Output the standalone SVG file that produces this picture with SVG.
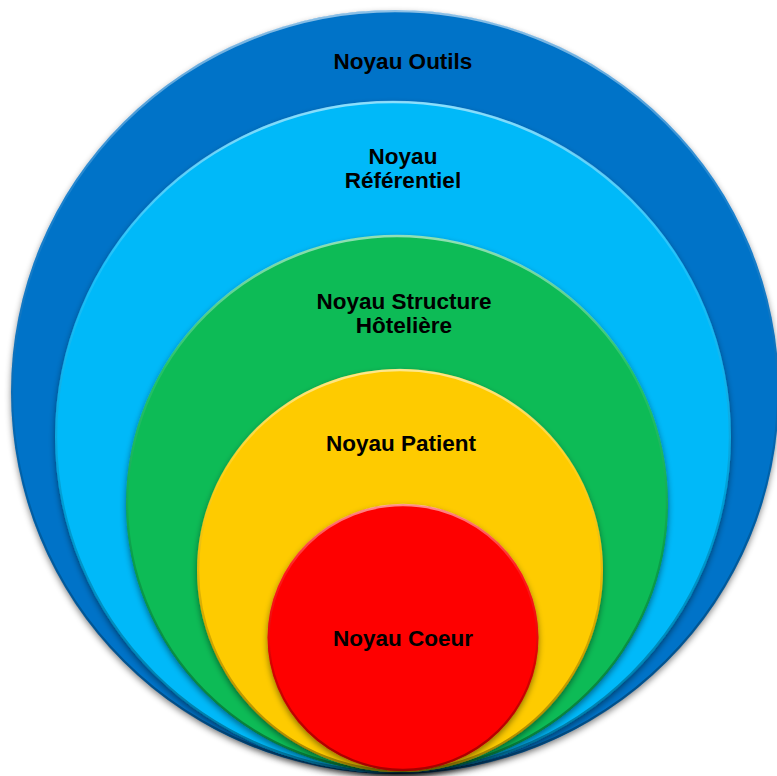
<svg xmlns="http://www.w3.org/2000/svg" width="777" height="776" viewBox="0 0 777 776">
  <style>
    .lbl { font-family: "Liberation Sans", Arial, sans-serif; font-weight: bold; font-size: 22.5px; fill: #000; text-anchor: middle; }
    .ring { filter: url(#shadow); }
    .edge { fill: none; stroke: url(#edgeGrad); stroke-width: 2.5; }
  </style>
  <defs>
    <filter id="shadow" x="-10%" y="-10%" width="120%" height="125%">
      <feDropShadow dx="0" dy="3" stdDeviation="3" flood-color="#000" flood-opacity="0.45"/>
    </filter>
    <linearGradient id="edgeGrad" x1="0" y1="0" x2="0" y2="1">
      <stop offset="0" stop-color="#fff" stop-opacity="0.55"/>
      <stop offset="0.25" stop-color="#fff" stop-opacity="0.1"/>
      <stop offset="0.6" stop-color="#000" stop-opacity="0.15"/>
      <stop offset="1" stop-color="#000" stop-opacity="0.35"/>
    </linearGradient>
  </defs>
  <rect width="777" height="776" fill="#fff"/>
  <g id="node-outils">
    <ellipse class="ring" cx="395" cy="392" rx="384" ry="382" fill="#0673C8"/>
    <ellipse class="edge" cx="395" cy="392" rx="383" ry="381"/>
    <text class="lbl" x="403" y="69">Noyau Outils</text>
  </g>
  <g id="node-referentiel">
    <ellipse class="ring" cx="393" cy="437" rx="338" ry="336" fill="#02B9F9"/>
    <ellipse class="edge" cx="393" cy="437" rx="337" ry="335"/>
    <text class="lbl" x="403" y="164">Noyau</text>
    <text class="lbl" x="403" y="188">Référentiel</text>
  </g>
  <g id="node-structure">
    <ellipse class="ring" cx="397" cy="503.5" rx="271" ry="268.5" fill="#08BB57"/>
    <ellipse class="edge" cx="397" cy="503.5" rx="270" ry="267.5"/>
    <text class="lbl" x="404" y="309">Noyau Structure</text>
    <text class="lbl" x="404" y="333">Hôtelière</text>
  </g>
  <g id="node-patient">
    <ellipse class="ring" cx="400" cy="570.5" rx="203" ry="201.5" fill="#FECB05"/>
    <ellipse class="edge" cx="400" cy="570.5" rx="202" ry="200.5"/>
    <text class="lbl" x="401" y="451">Noyau Patient</text>
  </g>
  <g id="node-coeur">
    <ellipse class="ring" cx="403" cy="637.5" rx="135.5" ry="133.5" fill="#FE0000"/>
    <ellipse class="edge" cx="403" cy="637.5" rx="134.5" ry="132.5"/>
    <text class="lbl" x="403" y="646">Noyau Coeur</text>
  </g>
  <g id="connectors"/>
</svg>
